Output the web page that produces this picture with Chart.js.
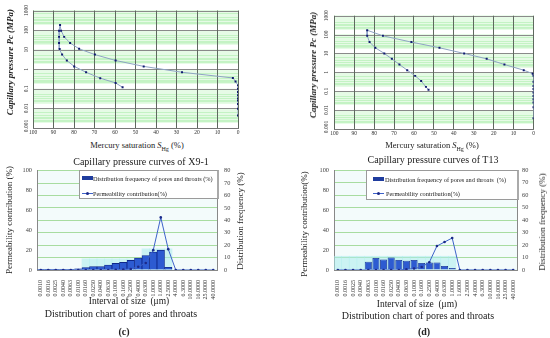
<!DOCTYPE html>
<html lang="en">
<head>
<meta charset="UTF-8">
<title>Capillary pressure curves and pore-throat distribution</title>
<script src="https://cdn.jsdelivr.net/npm/chart.js"></script>
<style>
  body { margin: 0; background: #fff; font-family: "Liberation Serif", "DejaVu Serif", serif; color: #222; }
  #page { position: relative; width: 550px; height: 338px; overflow: hidden; }
  canvas { position: absolute; }
  .txt { position: absolute; white-space: nowrap; transform: translate(-50%, -50%); }
  .vtxt { position: absolute; white-space: nowrap; transform: translate(-50%, -50%) rotate(-90deg); }
  .cap { font-size: 10px; }
  .axt { font-size: 8.5px; }
  .pct { font-size: 9px; font-style: italic; font-weight: bold; }
  .legend { position: absolute; background: #fff; border: 1px solid #9a9a9a; border-right: 2px solid #aaa; font-size: 6.3px; }
  .legend span { position: absolute; white-space: nowrap; transform: translateY(-50%); }
  .swBar { position: absolute; height: 4px; width: 11px; background: #1f3c9e; transform: translateY(-50%); }
  .swLine { position: absolute; height: 1px; width: 11px; background: #3d62c9; }
  .swLine::after { content: ""; position: absolute; left: 4px; top: -1px; width: 3px; height: 3px; border-radius: 50%; background: #1b2a8a; }
</style>
</head>
<body>
<div id="page">
  <canvas id="capA" width="275" height="139" style="left:0;top:0"></canvas>
  <canvas id="capB" width="275" height="139" style="left:275px;top:0"></canvas>
  <canvas id="distC" width="275" height="140" style="left:0;top:160px"></canvas>
  <canvas id="distD" width="275" height="140" style="left:275px;top:160px"></canvas>

  <div class="vtxt pct" style="left:10px;top:62px">Capillary pressure Pc (MPa)</div>
  <div class="txt axt" style="left:137px;top:145.5px">Mercury saturation <i>S</i><sub style="font-size:6px">Hg</sub> (%)</div>
  <div class="txt cap" style="left:141px;top:161px">Capillary pressure curves of X9-1</div>

  <div class="vtxt pct" style="left:313px;top:65px">Capillary pressure Pc (MPa)</div>
  <div class="txt axt" style="left:432px;top:146px">Mercury saturation <i>S</i><sub style="font-size:6px">Hg</sub> (%)</div>
  <div class="txt cap" style="left:433px;top:159px">Capillary pressure curves of T13</div>

  <div class="vtxt axt" style="left:8.5px;top:220px;font-size:9px">Permeability contribution (%)</div>
  <div class="vtxt axt" style="left:240px;top:220.5px;font-size:9px">Distribution frequency (%)</div>
  <div class="txt axt" style="left:129px;top:301px;font-size:9.5px">Interval of size &nbsp;(μm)</div>
  <div class="txt cap" style="left:121px;top:313px">Distribution chart of pores and throats</div>
  <div class="txt cap" style="left:124px;top:331px;font-weight:bold">(c)</div>

  <div class="vtxt axt" style="left:304px;top:224px;font-size:9px">Permeability contribution(%)</div>
  <div class="vtxt axt" style="left:541.5px;top:222px;font-size:9px">Distribution frequency (%)</div>
  <div class="txt axt" style="left:417px;top:304px;font-size:9.5px">Interval of size &nbsp;(μm)</div>
  <div class="txt cap" style="left:418px;top:315px">Distribution chart of pores and throats</div>
  <div class="txt cap" style="left:424px;top:331px;font-weight:bold">(d)</div>

  <div class="legend" style="left:79px;top:170px;width:137px;height:27px">
    <div class="swBar" style="left:1.5px;top:7.3px"></div>
    <span style="left:13px;top:7.3px">Distribution frequency of pores and throats (%)</span>
    <div class="swLine" style="left:1.5px;top:21.7px"></div>
    <span style="left:13px;top:21.7px">Permeability contribution(%)</span>
  </div>
  <div class="legend" style="left:366px;top:170px;width:150px;height:28px">
    <div class="swBar" style="left:6px;top:8px"></div>
    <span style="left:18px;top:8px">Distribution frequency of pores and throats &nbsp;(%)</span>
    <div class="swLine" style="left:6px;top:21.7px"></div>
    <span style="left:19px;top:21.7px">Permeability contribution(%)</span>
  </div>
</div>

<script>
// capillary pressure, sample X9-1 (saturation %, pressure MPa)
const x91Sat = [0, 0, 0, 0, 0, 0, 0, 0, 0, 1.2, 2.5, 27.3, 46, 59.7, 69.8, 77.5, 81.9, 84.8, 86.3, 86.8,
                87.3, 87.3, 87.3, 87, 85.8, 83.5, 79.9, 74.1, 67.2, 59.7, 56.3];
const x91Pc = [0.0044, 0.0096, 0.017, 0.025, 0.032, 0.047, 0.069, 0.1, 0.15, 0.24, 0.36, 0.7, 1.4, 2.8, 5.6, 11, 22, 45, 93, 180,
               93, 45, 22, 10.7, 5.6, 2.8, 1.4, 0.7, 0.35, 0.2, 0.12];

// capillary pressure, sample T13
const t13Sat = [0, 0, 0, 0, 0, 0, 0, 0, 0, 0, 0.4, 4.9, 14.6, 23.5, 34.8, 47.2, 61.3, 75.6, 83.5,
                83.5, 82.3, 79.4, 74.9, 71.1, 67.3, 63.4, 59.4, 56.4, 54, 52.7];
const t13Pc = [0.0037, 0.014, 0.025, 0.038, 0.056, 0.085, 0.13, 0.19, 0.32, 0.65, 0.85, 1.3, 2.6, 5.2, 10, 20, 40, 86, 170,
               86, 40, 20, 10, 5.2, 2.6, 1.3, 0.65, 0.35, 0.17, 0.12];

const pcTicks = [0.001, 0.01, 0.1, 1, 10, 100, 1000];
const pcTickText = ['0.001', '0.01', '0.1', '1', '10', '100', '1000'];

// pore-throat size intervals (um)
const sizeLabels = ['0.0010', '0.0016', '0.0025', '0.0040', '0.0063', '0.0100', '0.0160', '0.0250', '0.0400', '0.0630',
                    '0.1000', '0.1600', '0.2500', '0.4000', '0.6300', '1.0000', '1.6000', '2.5000', '4.0000', '6.3000',
                    '10.0000', '16.0000', '25.0000', '40.0000'];

// (c) distribution frequency (%) and permeability contribution (%)
const freqC = [0.2, 0.2, 0.2, 0.3, 0.5, 1, 1.9, 2.7, 2.7, 4, 5.3, 6.1, 7.7, 9.6, 11.7, 14.4, 16, 2.1, 0, 0, 0, 0, 0, 0];
const permC = [0, 0, 0, 0, 0, 0, 0, 0, 0, 0, 0.2, 0.5, 1, 3.3, 7, 20, 53, 21, 0, 0, 0, 0, 0, 0];
const shadeC = [0, 0, 0, 0, 0, 0, 9, 9, 9, 9, 9, 9, 9, 9, 17, 17, 17, 17, 0, 0, 0, 0, 0, 0];

// (d)
const freqD = [0, 0, 0, 0, 6.7, 9.6, 8.5, 10.1, 8, 7.5, 8, 5.6, 6.1, 6.1, 3.2, 1.6, 0, 0, 0, 0, 0, 0, 0, 0];
const permD = [0, 0, 0, 0, 0, 0, 0, 0, 0, 0.8, 1.5, 3, 7.7, 24, 28, 32, 0, 0, 0, 0, 0, 0, 0, 0];
const shadeD = [11, 11, 11, 11, 11, 11, 11, 11, 11, 11, 11, 11, 11, 11, 11, 11, 0, 0, 0, 0, 0, 0, 0, 0];

const serif = 'Liberation Serif';

// green bands, minor lines and rotated labels for the log axis
const logGrid = {
  id: 'logGrid',
  beforeDraw(chart) {
    const { ctx, chartArea: a, scales: { y } } = chart;
    ctx.save();
    for (let e = -3; e < 3; e++) {
      const d = Math.pow(10, e);
      const top = y.getPixelForValue(d * 10), mid = y.getPixelForValue(d * 2);
      ctx.fillStyle = '#c4f3c4';
      ctx.fillRect(a.left, top, a.width, mid - top);
      ctx.strokeStyle = '#e6fbe6';
      ctx.lineWidth = 1;
      for (let k = 2; k < 10; k++) {
        const py = Math.round(y.getPixelForValue(k * d)) + 0.5;
        ctx.beginPath(); ctx.moveTo(a.left, py); ctx.lineTo(a.right, py); ctx.stroke();
      }
    }
    ctx.strokeStyle = '#8a8a8a';
    pcTicks.forEach(v => {
      const py = Math.round(y.getPixelForValue(v)) + 0.5;
      ctx.beginPath(); ctx.moveTo(a.left, py); ctx.lineTo(a.right, py); ctx.stroke();
    });
    ctx.restore();
  },
  afterDraw(chart, args, opts) {
    const { ctx, scales: { y } } = chart;
    ctx.save();
    ctx.font = '5.5px ' + serif;
    ctx.fillStyle = '#333';
    ctx.textAlign = 'center';
    ctx.textBaseline = 'middle';
    pcTicks.forEach((v, i) => {
      let py = y.getPixelForValue(v);
      if (i === 0) py -= 2;
      ctx.save();
      ctx.translate(opts.labelX, py);
      ctx.rotate(-Math.PI / 2);
      ctx.fillText(pcTickText[i], 0, 0);
      ctx.restore();
    });
    ctx.restore();
  }
};

function capChart(id, sat, pc, pad, labelX, xh) {
  return new Chart(document.getElementById(id), {
    type: 'scatter',
    data: {
      datasets: [{
        data: sat.map((s, i) => ({ x: s, y: pc[i] })),
        showLine: true,
        borderColor: '#8ea3c4',
        borderWidth: 1,
        pointStyle: 'rect',
        pointRadius: 1.4,
        pointBackgroundColor: '#101a70',
        pointBorderWidth: 0
      }]
    },
    options: {
      responsive: false,
      animation: false,
      devicePixelRatio: 1,
      layout: { padding: pad },
      plugins: { legend: { display: false }, tooltip: { enabled: false }, logGrid: { labelX } },
      scales: {
        x: {
          type: 'linear', min: 0, max: 100, reverse: true,
          ticks: { stepSize: 10, font: { family: serif, size: 5.5 }, color: '#333', padding: 1, maxRotation: 0 },
          grid: { color: '#5f6a5f', drawTicks: false },
          border: { color: '#777' },
          afterFit: s => { s.height = xh; }
        },
        y: { type: 'logarithmic', min: 0.001, max: 1000, display: false }
      }
    },
    plugins: [logGrid]
  });
}

const plotBg = {
  id: 'plotBg',
  beforeDraw(chart) {
    const { ctx, chartArea: a } = chart;
    ctx.save();
    ctx.fillStyle = '#f3fbfb';
    ctx.fillRect(a.left, a.top, a.width, a.height);
    ctx.restore();
  }
};

function distChart(id, freq, perm, shade, cfg) {
  const tickFont = { family: serif, size: 6.3 };
  return new Chart(document.getElementById(id), {
    type: 'bar',
    data: {
      labels: sizeLabels,
      datasets: [
        {
          type: 'line', data: perm, yAxisID: 'y', order: 0,
          borderColor: '#3d62c9', borderWidth: 1, tension: 0,
          pointRadius: 1.3, pointBackgroundColor: '#1b2a8a', pointBorderWidth: 0
        },
        {
          data: freq, yAxisID: 'y1', order: 1, grouped: false,
          backgroundColor: '#2d5bd1', borderColor: '#10288a', borderWidth: 0.8,
          barPercentage: 1, categoryPercentage: cfg.catPct
        },
        {
          data: shade, yAxisID: 'y1', order: 2, grouped: false,
          backgroundColor: 'rgba(170,236,236,0.55)', borderWidth: 0,
          barPercentage: 1, categoryPercentage: 1
        }
      ]
    },
    options: {
      responsive: false,
      animation: false,
      devicePixelRatio: 1,
      layout: { padding: { top: 10, left: 0, right: 0, bottom: 0 } },
      plugins: { legend: { display: false }, tooltip: { enabled: false } },
      scales: {
        x: {
          ticks: { font: { family: serif, size: 6 }, color: '#333', minRotation: 90, maxRotation: 90, padding: 2, autoSkip: false },
          grid: { display: false },
          border: { color: '#888' },
          afterFit: s => { s.height = 30; }
        },
        y: {
          position: 'left', min: 0, max: 100,
          ticks: { stepSize: 10, font: tickFont, color: '#444', padding: cfg.lPad },
          grid: { display: false, drawTicks: false },
          border: { color: '#888' },
          afterFit: s => { s.width = cfg.lw; }
        },
        y1: {
          position: 'right', min: 0, max: 80,
          ticks: { stepSize: 10, font: tickFont, color: '#444', padding: cfg.rPad },
          grid: { color: '#a8dca0', drawTicks: false },
          border: { color: '#888' },
          afterFit: s => { s.width = cfg.rw; }
        }
      }
    },
    plugins: [plotBg]
  });
}

capChart('capA', x91Sat, x91Pc, { left: 33, right: 37, top: 10.5, bottom: 0 }, 26.5, 11);
capChart('capB', t13Sat, t13Pc, { left: 59.3, right: 16.5, top: 15.7, bottom: 0 }, 51.5, 10);
distChart('distC', freqC, permC, shadeC, { lw: 37, rw: 58, lPad: 5, rPad: 7, catPct: 1 });
distChart('distD', freqD, permD, shadeD, { lw: 59, rw: 33, lPad: 5, rPad: 5, catPct: 0.92 });
</script>
</body>
</html>
